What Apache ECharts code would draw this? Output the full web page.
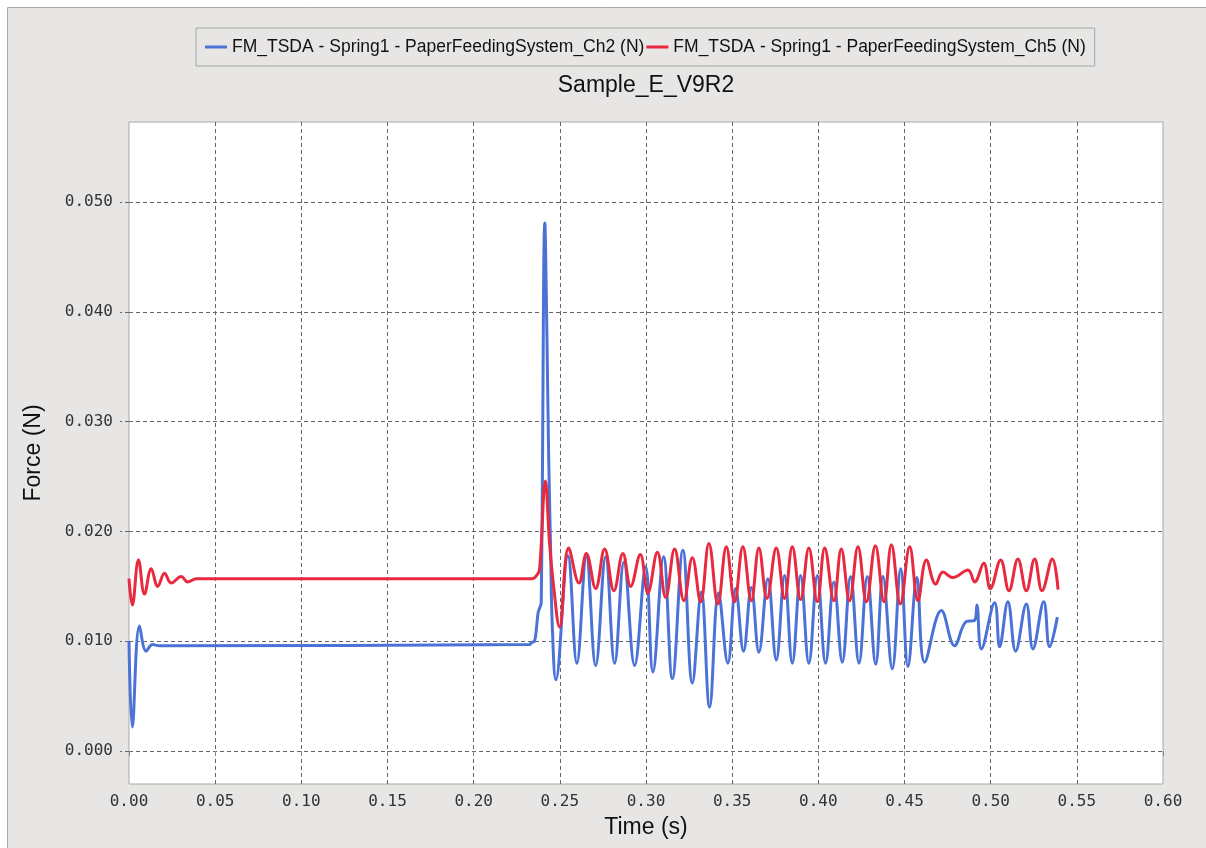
<!DOCTYPE html>
<html>
<head>
<meta charset="utf-8">
<title>Sample_E_V9R2</title>
<script src="https://cdn.jsdelivr.net/npm/echarts@6/dist/echarts.min.js"></script>
<style>
  html, body { margin: 0; padding: 0; background: #fff; }
  #chartContainer { width: 1206px; height: 848px; }
</style>
</head>
<body>
<div id="chartContainer"></div>
<script>
// Ch2 (blue) : time (s) and force (N)
const timeCh2 = [0.0000, 0.0019, 0.0061, 0.0100, 0.0136, 0.0177, 0.2324, 0.2336, 0.2353, 0.2365, 0.2374, 0.2382, 0.2392,
    0.2413, 0.2425, 0.2435, 0.2447, 0.2456, 0.2477, 0.2547, 0.2599, 0.2654, 0.2708, 0.2766, 0.2818, 0.2872, 0.2934,
    0.2998, 0.3040, 0.3102, 0.3153, 0.3214, 0.3269, 0.3321, 0.3369, 0.3421, 0.3475, 0.3520, 0.3566, 0.3611, 0.3655,
    0.3707, 0.3756, 0.3804, 0.3849, 0.3897, 0.3945, 0.3994, 0.4042, 0.4090, 0.4139, 0.4187, 0.4236, 0.4284, 0.4333,
    0.4375, 0.4429, 0.4478, 0.4520, 0.4572, 0.4617, 0.4714, 0.4791, 0.4859, 0.4907, 0.4920, 0.4946, 0.5023, 0.5052,
    0.5100, 0.5145, 0.5207, 0.5245, 0.5308, 0.5342, 0.5387];
const forceCh2 = [0.0100, 0.0022, 0.0114, 0.0091, 0.0097, 0.0096, 0.0097, 0.0099, 0.0100, 0.0113, 0.0126, 0.0130, 0.0135,
    0.0481, 0.0380, 0.0270, 0.0180, 0.0115, 0.0065, 0.0178, 0.0080, 0.0177, 0.0078, 0.0177, 0.0080, 0.0172, 0.0078,
    0.0168, 0.0072, 0.0177, 0.0066, 0.0183, 0.0062, 0.0145, 0.0040, 0.0144, 0.0080, 0.0148, 0.0091, 0.0149, 0.0090,
    0.0157, 0.0083, 0.0160, 0.0080, 0.0160, 0.0080, 0.0160, 0.0080, 0.0154, 0.0081, 0.0159, 0.0080, 0.0159, 0.0079,
    0.0159, 0.0075, 0.0166, 0.0077, 0.0158, 0.0081, 0.0128, 0.0096, 0.0118, 0.0119, 0.0133, 0.0093, 0.0135, 0.0095,
    0.0136, 0.0091, 0.0134, 0.0093, 0.0136, 0.0095, 0.0122];

// Ch5 (red)
const timeCh5 = [0.0000, 0.0019, 0.0055, 0.0090, 0.0129, 0.0167, 0.0206, 0.0245, 0.0303, 0.0340, 0.0390, 0.2342, 0.2365,
    0.2382, 0.2416, 0.2440, 0.2464, 0.2498, 0.2551, 0.2611, 0.2654, 0.2708, 0.2760, 0.2814, 0.2866, 0.2911, 0.2967,
    0.3011, 0.3066, 0.3114, 0.3166, 0.3220, 0.3269, 0.3317, 0.3365, 0.3417, 0.3466, 0.3514, 0.3562, 0.3611, 0.3655,
    0.3702, 0.3756, 0.3804, 0.3849, 0.3897, 0.3945, 0.3994, 0.4037, 0.4090, 0.4133, 0.4181, 0.4230, 0.4279, 0.4331,
    0.4381, 0.4424, 0.4476, 0.4530, 0.4578, 0.4627, 0.4681, 0.4723, 0.4781, 0.4868, 0.4907, 0.4960, 0.4998, 0.5058,
    0.5106, 0.5158, 0.5207, 0.5255, 0.5298, 0.5358, 0.5391];
const forceCh5 = [0.0157, 0.0133, 0.0174, 0.0143, 0.0166, 0.0150, 0.0162, 0.0153, 0.0159, 0.0154, 0.0157, 0.0157, 0.0160,
    0.0165, 0.0246, 0.0190, 0.0150, 0.0113, 0.0185, 0.0153, 0.0180, 0.0148, 0.0184, 0.0146, 0.0180, 0.0150, 0.0179,
    0.0144, 0.0181, 0.0140, 0.0184, 0.0137, 0.0176, 0.0136, 0.0189, 0.0134, 0.0186, 0.0136, 0.0186, 0.0137, 0.0185,
    0.0139, 0.0185, 0.0139, 0.0186, 0.0138, 0.0185, 0.0136, 0.0185, 0.0137, 0.0184, 0.0137, 0.0186, 0.0136, 0.0187,
    0.0136, 0.0188, 0.0134, 0.0186, 0.0137, 0.0174, 0.0152, 0.0163, 0.0158, 0.0165, 0.0154, 0.0171, 0.0148, 0.0174,
    0.0146, 0.0175, 0.0146, 0.0175, 0.0146, 0.0175, 0.0147];

const nameCh2 = 'FM_TSDA - Spring1 - PaperFeedingSystem_Ch2 (N)';
const nameCh5 = 'FM_TSDA - Spring1 - PaperFeedingSystem_Ch5 (N)';
const yTicks = [0, 0.01, 0.02, 0.03, 0.04, 0.05];

function pairs(xs, ys) {
    return xs.map((x, i) => [x, ys[i]]);
}

const chart = echarts.init(document.getElementById('chartContainer'));

const dashStyle = { color: '#666', type: [4, 3], width: 1 };

const option = {
    animation: false,
    backgroundColor: '#fff',
    graphic: [{
        type: 'rect',
        z: -100,
        silent: true,
        shape: { x: 7.5, y: 7.5, width: 1300, height: 1000 },
        style: { fill: '#e7e6e4', stroke: '#a9a9a9', lineWidth: 1 }
    }],
    title: {
        text: 'Sample_E_V9R2',
        left: 646,
        top: 74,
        padding: 0,
        textAlign: 'center',
        textStyle: { fontFamily: 'Liberation Sans', fontSize: 23, fontWeight: 'normal', color: '#111' }
    },
    legend: {
        left: 196,
        top: 28,
        padding: [10, 9],
        itemGap: 2,
        itemWidth: 22,
        itemHeight: 3,
        icon: 'rect',
        borderColor: '#a6a6a6',
        borderWidth: 1,
        backgroundColor: '#e7e6e4',
        textStyle: { fontFamily: 'Liberation Sans', fontSize: 17.5, color: '#111' },
        data: [nameCh2, nameCh5]
    },
    grid: {
        left: 129, top: 122, width: 1034, height: 662,
        show: true, backgroundColor: '#fff', borderColor: '#a8a8a8', borderWidth: 1
    },
    xAxis: {
        type: 'value',
        min: 0, max: 0.6, interval: 0.05,
        name: 'Time (s)',
        nameLocation: 'middle',
        nameGap: 32,
        nameTextStyle: { fontFamily: 'Liberation Sans', fontSize: 23, color: '#111' },
        axisLine: { show: false },
        axisTick: { show: true, length: 5, lineStyle: { color: '#888' } },
        axisLabel: {
            margin: 10,
            fontFamily: 'DejaVu Sans Mono', fontSize: 16, color: '#333',
            formatter: v => v.toFixed(2)
        },
        splitLine: { show: true, showMinLine: false, showMaxLine: false, lineStyle: dashStyle }
    },
    yAxis: {
        type: 'value',
        min: -0.003, max: 0.0573,
        name: 'Force (N)',
        nameLocation: 'middle',
        nameGap: 84,
        nameTextStyle: { fontFamily: 'Liberation Sans', fontSize: 23, color: '#111' },
        axisLine: { show: false },
        axisTick: { show: true, length: 9, customValues: yTicks, lineStyle: { color: '#666', type: [4, 3] } },
        axisLabel: {
            margin: 16, customValues: yTicks,
            fontFamily: 'DejaVu Sans Mono', fontSize: 16, color: '#333',
            formatter: v => v.toFixed(3)
        },
        splitLine: { show: true, lineStyle: dashStyle }
    },
    series: [{
        name: nameCh2,
        type: 'line',
        data: pairs(timeCh2, forceCh2),
        showSymbol: false,
        smooth: 0.4,
        lineStyle: { color: '#4b72d7', width: 3 },
        itemStyle: { color: '#4b72d7' }
    }, {
        name: nameCh5,
        type: 'line',
        data: pairs(timeCh5, forceCh5),
        showSymbol: false,
        smooth: 0.4,
        lineStyle: { color: '#e8293e', width: 3 },
        itemStyle: { color: '#e8293e' }
    }]
};

chart.setOption(option);
</script>
</body>
</html>
